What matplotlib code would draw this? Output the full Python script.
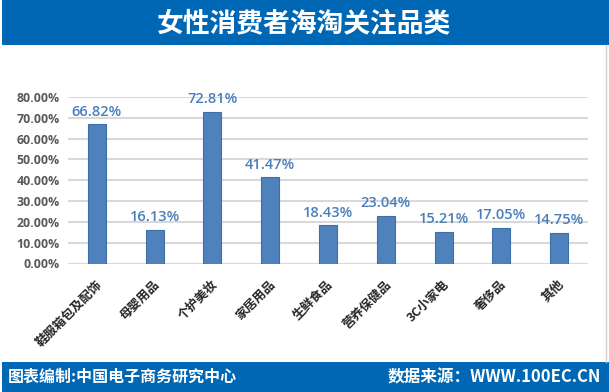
import matplotlib
matplotlib.use("Agg")
import matplotlib.pyplot as plt
from matplotlib.patches import Rectangle
from matplotlib.ticker import FuncFormatter, MultipleLocator
from matplotlib.transforms import ScaledTranslation

categories = ["鞋服箱包及配饰", "母婴用品", "个护美妆", "家居用品", "生鲜食品",
              "营养保健品", "3C小家电", "奢侈品", "其他"]
values = [66.82, 16.13, 72.81, 41.47, 18.43, 23.04, 15.21, 17.05, 14.75]
title = "女性消费者海淘关注品类"
footer_left = "图表编制:中国电子商务研究中心"
footer_right = "数据来源：WWW.100EC.CN"

CJK = ["Noto Sans CJK SC", "DejaVu Sans"]
NUM = ["Open Sans", "DejaVu Sans"]
BANNER = "#0067B4"

fig = plt.figure(figsize=(6.09, 3.92), dpi=100)
fig.patch.set_facecolor("white")

# banners
fig.add_artist(Rectangle((2/609, 1 - 45/392), 1 - 2/609, 45/392, transform=fig.transFigure,
                         facecolor=BANNER, edgecolor="none", zorder=0))
fig.add_artist(Rectangle((2/609, 0), 1 - 2/609, 30/392, transform=fig.transFigure,
                         facecolor=BANNER, edgecolor="none", zorder=0))
fig.add_artist(plt.Line2D([606/609, 606/609], [30/392, 1 - 45/392], transform=fig.transFigure,
                          color="#D0D0D0", lw=1))

fig.text(304/609, 1 - 23/392, title, color="white", fontsize=19.3, fontweight="bold",
         ha="center", va="center", family=CJK)
fig.text(8/609, 15/392, footer_left, color="white", fontsize=11.5, fontweight="bold",
         ha="left", va="center", family=CJK)
fig.text(601/609, 15/392, footer_right, color="white", fontsize=12, fontweight="bold",
         ha="right", va="center", family=CJK)

ax = fig.add_axes([68/609, 1 - 263.5/392, (588 - 68)/609, (263.5 - 97)/392])
x = list(range(len(categories)))
ax.bar(x, values, width=0.31, color="#4F81BD", edgecolor="#3F6FA8", linewidth=0.8, zorder=3)
ax.set_xlim(-0.5, len(categories) - 0.5)
ax.set_ylim(0, 80)
ax.yaxis.set_major_locator(MultipleLocator(10))
ax.yaxis.set_major_formatter(FuncFormatter(lambda v, p: f"{v:.2f}%"))
ax.grid(axis="y", color="#D9D9D9", linewidth=1.5, zorder=0)
ax.set_axisbelow(True)
for s in ax.spines.values():
    s.set_visible(False)
ax.tick_params(axis="both", length=0)
ax.tick_params(axis="y", pad=5.8)
for lab in ax.get_yticklabels():
    lab.set_family(NUM)
    lab.set_fontweight("bold")
    lab.set_fontsize(8.9)
    lab.set_color("#595959")

ax.set_xticks(x)
ax.set_xticklabels(categories, rotation=45, ha="right", va="center", rotation_mode="anchor",
                   family=CJK, fontweight="bold", fontsize=9, color="#262626")
ax.tick_params(axis="x", pad=0)
off = ScaledTranslation(3/100, -19/100, fig.dpi_scale_trans)
for lab in ax.get_xticklabels():
    lab.set_transform(lab.get_transform() + off)

for xi, v in zip(x, values):
    ax.annotate(f"{v:.2f}%", (xi, v), xytext=(0, 4), textcoords="offset points",
                ha="center", va="bottom", fontsize=10.5, color="#4A7EBB",
                family=NUM, fontweight="semibold")

fig.savefig("out.png", dpi=100, facecolor="white")
